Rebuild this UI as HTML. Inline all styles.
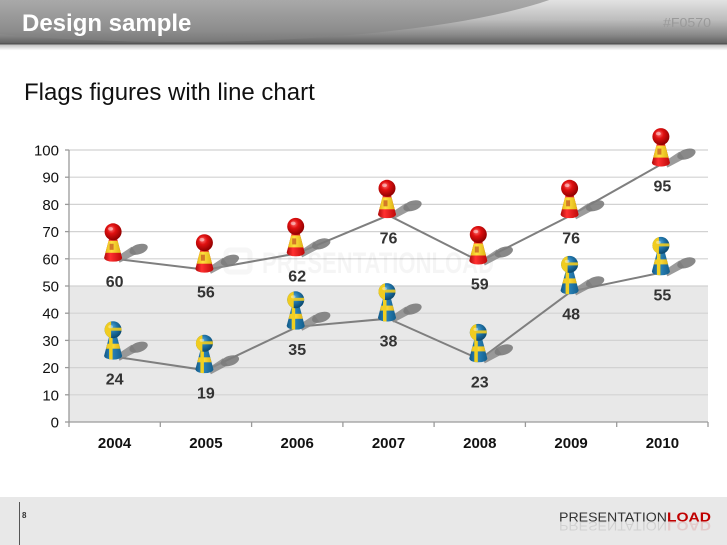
<!DOCTYPE html>
<html><head><meta charset="utf-8"><style>
html,body{margin:0;padding:0;background:#fff;width:727px;height:545px;overflow:hidden}
svg{display:block;font-family:"Liberation Sans",sans-serif}
</style></head><body>
<svg width="727" height="545" viewBox="0 0 727 545" xmlns="http://www.w3.org/2000/svg">
<defs>
  <linearGradient id="hdr" x1="0" y1="0" x2="0" y2="1">
    <stop offset="0" stop-color="#e2e2e2"/>
    <stop offset="0.45" stop-color="#bdbdbd"/>
    <stop offset="0.8" stop-color="#888"/>
    <stop offset="1" stop-color="#5e5e5e"/>
  </linearGradient>
  <linearGradient id="ell" gradientUnits="userSpaceOnUse" x1="0" y1="0" x2="0" y2="44">
    <stop offset="0" stop-color="#a9a9a9"/>
    <stop offset="0.7" stop-color="#8c8c8c"/>
    <stop offset="1" stop-color="#747474"/>
  </linearGradient>
  <linearGradient id="hshadow" x1="0" y1="0" x2="0" y2="1">
    <stop offset="0" stop-color="#bdbdbd"/>
    <stop offset="1" stop-color="#ffffff"/>
  </linearGradient>
  <linearGradient id="red" x1="0" y1="0" x2="1" y2="0">
    <stop offset="0" stop-color="#9a0000"/>
    <stop offset="0.35" stop-color="#ff3030"/>
    <stop offset="1" stop-color="#b00000"/>
  </linearGradient>
  <radialGradient id="redball" cx="0.4" cy="0.35" r="0.65">
    <stop offset="0" stop-color="#ff7070"/>
    <stop offset="0.4" stop-color="#e01010"/>
    <stop offset="1" stop-color="#900000"/>
  </radialGradient>
  <linearGradient id="yel" x1="0" y1="0" x2="1" y2="0">
    <stop offset="0" stop-color="#d8a800"/>
    <stop offset="0.4" stop-color="#ffe040"/>
    <stop offset="1" stop-color="#d0a000"/>
  </linearGradient>
  <linearGradient id="blue" x1="0" y1="0" x2="1" y2="0">
    <stop offset="0" stop-color="#0d4f7a"/>
    <stop offset="0.4" stop-color="#2c86bd"/>
    <stop offset="1" stop-color="#0e5580"/>
  </linearGradient>
  <radialGradient id="blueball" cx="0.4" cy="0.35" r="0.65">
    <stop offset="0" stop-color="#5aaede"/>
    <stop offset="0.5" stop-color="#1f73a8"/>
    <stop offset="1" stop-color="#0c4a70"/>
  </radialGradient>
  <clipPath id="bodyclip">
    <path d="M-5.5,-20 L-10.5,-1 A9,4 0 0 0 7.5,-1 L2.5,-20 Z"/>
  </clipPath>
  <clipPath id="ballclip">
    <circle cx="-1.5" cy="-27" r="8.5"/>
  </clipPath>
  <g id="shadow">
    <path d="M2,-2 L17,-12 L22,-5 L5,4 Z" fill="#8a8a8a" opacity="0.85"/>
    <ellipse cx="24" cy="-9.5" rx="9.5" ry="5" transform="rotate(-18 24 -9.5)" fill="#7c7c7c" opacity="0.9"/>
  </g>
  <g id="spain">
    <g clip-path="url(#bodyclip)">
      <rect x="-12" y="-22" width="22" height="28" fill="url(#red)"/>
      <rect x="-12" y="-18" width="22" height="12" fill="url(#yel)"/>
      <rect x="-5" y="-15" width="4" height="6" fill="#c05020" opacity="0.7"/>
    </g>
    <circle cx="-1.5" cy="-27" r="8.5" fill="url(#redball)"/>
    <ellipse cx="-4" cy="-30" rx="2.5" ry="1.8" fill="#fff" opacity="0.45"/>
  </g>
  <g id="sweden">
    <g clip-path="url(#bodyclip)">
      <rect x="-12" y="-22" width="22" height="28" fill="url(#blue)"/>
      <rect x="-12" y="-13" width="22" height="5" fill="url(#yel)"/>
      <rect x="-5.5" y="-22" width="3.5" height="28" fill="#f2d020"/>
    </g>
    <circle cx="-1.5" cy="-27" r="8.5" fill="url(#blueball)"/>
    <g clip-path="url(#ballclip)">
      <rect x="-10" y="-36" width="6.5" height="18" fill="#f0cc20"/>
      <rect x="-10" y="-29" width="18" height="3" fill="#f0cc20" opacity="0.9"/>
    </g>
    <ellipse cx="-4" cy="-30" rx="2.3" ry="1.6" fill="#fff" opacity="0.4"/>
  </g>
</defs>

<!-- Header -->
<rect x="0" y="0" width="727" height="44" fill="url(#hdr)"/>
<clipPath id="hclip"><rect x="0" y="0" width="727" height="44"/></clipPath>
<ellipse cx="180" cy="-40" rx="423" ry="82" fill="url(#ell)" clip-path="url(#hclip)"/>
<rect x="0" y="43" width="727" height="1.5" fill="#555"/>
<rect x="0" y="44.5" width="727" height="6" fill="url(#hshadow)"/>
<text x="22" y="31" font-size="24" font-weight="bold" fill="#fff">Design sample</text>
<text x="663" y="27" font-size="13" fill="#9a9a9a" textLength="48" lengthAdjust="spacingAndGlyphs" font-family="Liberation Sans Narrow, Liberation Sans, sans-serif">#F0570</text>

<!-- Title -->
<text x="24" y="100" font-size="24" fill="#111">Flags figures with line chart</text>

<!-- Plot area -->
<rect x="69" y="286" width="639" height="136" fill="#e8e8e8"/>
<g stroke="#d2d2d2" stroke-width="1.2">
  <line x1="69" y1="150" x2="708" y2="150"/>
  <line x1="69" y1="177.2" x2="708" y2="177.2"/>
  <line x1="69" y1="204.4" x2="708" y2="204.4"/>
  <line x1="69" y1="231.6" x2="708" y2="231.6"/>
  <line x1="69" y1="258.8" x2="708" y2="258.8"/>
  <line x1="69" y1="286" x2="708" y2="286"/>
  <line x1="69" y1="313.2" x2="708" y2="313.2"/>
  <line x1="69" y1="340.4" x2="708" y2="340.4"/>
  <line x1="69" y1="367.6" x2="708" y2="367.6"/>
  <line x1="69" y1="394.8" x2="708" y2="394.8"/>
</g>

<!-- Watermark -->
<text x="262" y="273" font-size="30" font-weight="bold" fill="#000" opacity="0.035" textLength="232" lengthAdjust="spacingAndGlyphs">PRESENTATIONLOAD</text>
<rect x="226" y="250" width="24" height="22" rx="4" fill="none" stroke="#000" stroke-opacity="0.035" stroke-width="5"/>

<!-- Axes -->
<g stroke="#9a9a9a" stroke-width="1.3">
  <line x1="69" y1="150" x2="69" y2="422"/>
  <line x1="69" y1="422" x2="708" y2="422"/>
  <line x1="65" y1="150" x2="69" y2="150"/>
  <line x1="65" y1="177.2" x2="69" y2="177.2"/>
  <line x1="65" y1="204.4" x2="69" y2="204.4"/>
  <line x1="65" y1="231.6" x2="69" y2="231.6"/>
  <line x1="65" y1="258.8" x2="69" y2="258.8"/>
  <line x1="65" y1="286" x2="69" y2="286"/>
  <line x1="65" y1="313.2" x2="69" y2="313.2"/>
  <line x1="65" y1="340.4" x2="69" y2="340.4"/>
  <line x1="65" y1="367.6" x2="69" y2="367.6"/>
  <line x1="65" y1="394.8" x2="69" y2="394.8"/>
  <line x1="65" y1="422" x2="69" y2="422"/>
  <line x1="69" y1="422" x2="69" y2="427"/>
  <line x1="160.3" y1="422" x2="160.3" y2="427"/>
  <line x1="251.6" y1="422" x2="251.6" y2="427"/>
  <line x1="342.9" y1="422" x2="342.9" y2="427"/>
  <line x1="434.1" y1="422" x2="434.1" y2="427"/>
  <line x1="525.4" y1="422" x2="525.4" y2="427"/>
  <line x1="616.7" y1="422" x2="616.7" y2="427"/>
  <line x1="708" y1="422" x2="708" y2="427"/>
</g>

<!-- Y labels -->
<g font-size="15" fill="#111" text-anchor="end">
  <text x="59" y="155.5">100</text>
  <text x="59" y="182.7">90</text>
  <text x="59" y="209.9">80</text>
  <text x="59" y="237.1">70</text>
  <text x="59" y="264.3">60</text>
  <text x="59" y="291.5">50</text>
  <text x="59" y="318.7">40</text>
  <text x="59" y="345.9">30</text>
  <text x="59" y="373.1">20</text>
  <text x="59" y="400.3">10</text>
  <text x="59" y="427.5">0</text>
</g>

<!-- X labels -->
<g font-size="15" font-weight="bold" fill="#111" text-anchor="middle">
  <text x="114.6" y="448">2004</text>
  <text x="205.9" y="448">2005</text>
  <text x="297.2" y="448">2006</text>
  <text x="388.5" y="448">2007</text>
  <text x="479.8" y="448">2008</text>
  <text x="571.1" y="448">2009</text>
  <text x="662.4" y="448">2010</text>
</g>

<!-- Lines -->
<polyline fill="none" stroke="#7f7f7f" stroke-width="2" points="114.6,258.8 205.9,269.7 297.2,253.4 388.5,215.3 479.8,261.5 571.1,215.3 662.4,163.6"/>
<polyline fill="none" stroke="#7f7f7f" stroke-width="2" points="114.6,356.7 205.9,370.3 297.2,326.8 388.5,318.6 479.8,359.4 571.1,291.4 662.4,272.4"/>

<!-- Shadows -->
<use href="#shadow" x="114.6" y="258.8"/>
<use href="#shadow" x="205.9" y="269.7"/>
<use href="#shadow" x="297.2" y="253.4"/>
<use href="#shadow" x="388.5" y="215.3"/>
<use href="#shadow" x="479.8" y="261.5"/>
<use href="#shadow" x="571.1" y="215.3"/>
<use href="#shadow" x="662.4" y="163.6"/>
<use href="#shadow" x="114.6" y="356.7"/>
<use href="#shadow" x="205.9" y="370.3"/>
<use href="#shadow" x="297.2" y="326.8"/>
<use href="#shadow" x="388.5" y="318.6"/>
<use href="#shadow" x="479.8" y="359.4"/>
<use href="#shadow" x="571.1" y="291.4"/>
<use href="#shadow" x="662.4" y="272.4"/>

<!-- Pawns -->
<use href="#spain" x="114.6" y="258.8"/>
<use href="#spain" x="205.9" y="269.7"/>
<use href="#spain" x="297.2" y="253.4"/>
<use href="#spain" x="388.5" y="215.3"/>
<use href="#spain" x="479.8" y="261.5"/>
<use href="#spain" x="571.1" y="215.3"/>
<use href="#spain" x="662.4" y="163.6"/>
<use href="#sweden" x="114.6" y="356.7"/>
<use href="#sweden" x="205.9" y="370.3"/>
<use href="#sweden" x="297.2" y="326.8"/>
<use href="#sweden" x="388.5" y="318.6"/>
<use href="#sweden" x="479.8" y="359.4"/>
<use href="#sweden" x="571.1" y="291.4"/>
<use href="#sweden" x="662.4" y="272.4"/>

<!-- Value labels -->
<g font-size="16" font-weight="bold" fill="#333" text-anchor="middle">
  <text x="114.6" y="286.8">60</text>
  <text x="205.9" y="297.7">56</text>
  <text x="297.2" y="281.4">62</text>
  <text x="388.5" y="243.3">76</text>
  <text x="479.8" y="289.5">59</text>
  <text x="571.1" y="243.3">76</text>
  <text x="662.4" y="191.6">95</text>
  <text x="114.6" y="384.7">24</text>
  <text x="205.9" y="398.3">19</text>
  <text x="297.2" y="354.8">35</text>
  <text x="388.5" y="346.6">38</text>
  <text x="479.8" y="387.4">23</text>
  <text x="571.1" y="319.4">48</text>
  <text x="662.4" y="300.4">55</text>
</g>

<!-- Footer -->
<rect x="0" y="497" width="727" height="48" fill="#e8e8e8"/>
<line x1="19.5" y1="502" x2="19.5" y2="545" stroke="#555" stroke-width="1"/>
<text x="22" y="518" font-size="8" font-weight="bold" fill="#333">8</text>
<text x="559" y="521.5" font-size="13" fill="#333" textLength="108" lengthAdjust="spacingAndGlyphs">PRESENTATION</text>
<text x="667" y="521.5" font-size="13" font-weight="bold" fill="#c00000" textLength="44" lengthAdjust="spacingAndGlyphs">LOAD</text>
<g transform="translate(0,1043) scale(1,-1)" opacity="0.12">
  <text x="559" y="521.5" font-size="13" fill="#333" textLength="108" lengthAdjust="spacingAndGlyphs">PRESENTATION</text>
  <text x="667" y="521.5" font-size="13" font-weight="bold" fill="#c00000" textLength="44" lengthAdjust="spacingAndGlyphs">LOAD</text>
</g>
</svg>
</body></html>
